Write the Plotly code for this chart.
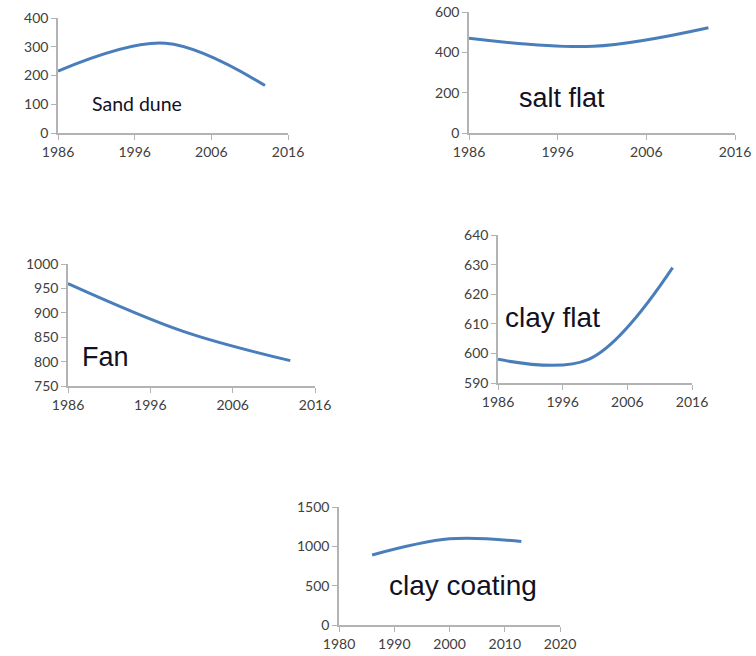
import plotly.graph_objects as go

W, H = 756, 656

years = [1986, 2000, 2013]
sand_dune = [215, 312, 165]
salt_flat = [470, 430, 522]
fan = [960, 862, 802]
clay_flat = [598, 598, 629]
clay_coating = [890, 1095, 1062]

labels = ["Sand dune", "salt flat", "Fan", "clay flat", "clay coating"]
series = [sand_dune, salt_flat, fan, clay_flat, clay_coating]

x_ticks_a = [1986, 1996, 2006, 2016]
x_ticks_b = [1980, 1990, 2000, 2010, 2020]
y_ticks = [
    [0, 100, 200, 300, 400],
    [0, 200, 400, 600],
    [750, 800, 850, 900, 950, 1000],
    [590, 600, 610, 620, 630, 640],
    [0, 500, 1000, 1500],
]

# pixel boxes (left, right, top, bottom)
boxes = [
    (58, 288, 18, 133),
    (469, 735, 12, 133),
    (68, 315, 264, 386),
    (498, 692, 235, 383),
    (339, 560, 507, 625),
]
label_pos = [
    (1996.3, 104, 19.5, "Lato"),
    (1996.5, 174, 27, "Liberation Sans"),
    (1990.6, 809, 27, "Liberation Sans"),
    (1994.5, 612, 28, "Liberation Sans"),
    (2002.4, 508, 28, "Liberation Sans"),
]

fig = go.Figure()
tick_font = dict(family="Lato", size=14, color="#404040")
axis_color = "#b3b3b3"

for i, (ys, box) in enumerate(zip(series, boxes)):
    n = i + 1
    xa = "x" if n == 1 else f"x{n}"
    ya = "y" if n == 1 else f"y{n}"
    fig.add_trace(go.Scatter(
        x=years, y=ys, mode="lines",
        line=dict(color="#4a7ebb", width=3, shape="spline", smoothing=1.0),
        xaxis=xa, yaxis=ya, showlegend=False, hoverinfo="skip",
    ))
    l, r, t, b = box
    xt = x_ticks_b if n == 5 else x_ticks_a
    fig.layout[f"xaxis{'' if n == 1 else n}"] = dict(
        domain=[l / W, r / W], anchor=ya, range=[xt[0], xt[-1]],
        tickvals=xt, ticks="outside", ticklen=5, tickcolor=axis_color,
        showline=True, linecolor=axis_color, linewidth=1.5,
        showgrid=False, zeroline=False, tickfont=tick_font, automargin=False,
    )
    yt = y_ticks[i]
    fig.layout[f"yaxis{'' if n == 1 else n}"] = dict(
        domain=[1 - b / H, 1 - t / H], anchor=xa, range=[yt[0], yt[-1]],
        tickvals=yt, ticks="outside", ticklen=5, tickcolor=axis_color,
        showline=True, linecolor=axis_color, linewidth=1.5,
        showgrid=False, zeroline=False, tickfont=tick_font, automargin=False,
    )
    lx, ly, fs, fam = label_pos[i]
    fig.add_annotation(
        x=lx, y=ly, xref=xa, yref=ya, text=labels[i], showarrow=False,
        font=dict(family=fam, size=fs, color="#111122"),
    )

fig.update_layout(
    width=W, height=H, margin=dict(l=0, r=0, t=0, b=0, pad=0),
    paper_bgcolor="white", plot_bgcolor="white",
)

fig.write_html(
    "out.html",
    config={"displayModeBar": False},
    post_script="document.body.style.margin='0';document.body.style.overflow='hidden';",
)
